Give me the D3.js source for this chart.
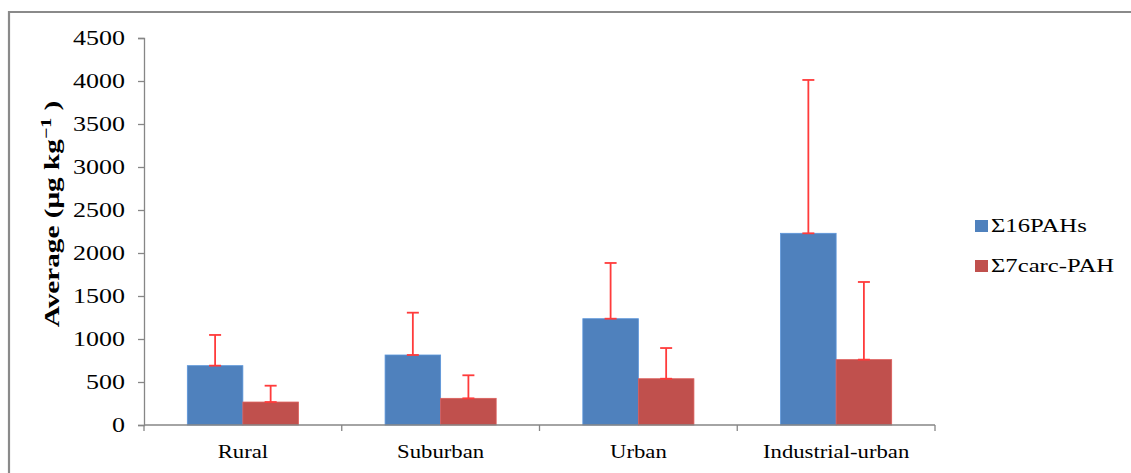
<!DOCTYPE html>
<html>
<head>
<meta charset="utf-8">
<script src="https://cdn.jsdelivr.net/npm/d3@7/dist/d3.min.js"></script>
<style>
  html, body { margin: 0; padding: 0; background: #fff; }
  svg { display: block; }
  text { font-family: "Liberation Serif", "Times New Roman", serif; fill: #000; }
</style>
</head>
<body>
<svg id="chart" width="1131" height="473"></svg>
<script>
// Average PAH concentrations by land-use type (µg kg⁻¹), with standard deviations
const categories = ["Rural", "Suburban", "Urban", "Industrial-urban"];
const seriesNames = ["\u03A316PAHs", "\u03A37carc-PAH"];
const pah16Mean = [690, 814, 1236, 2229];
const pah16Sd = [357, 492, 648, 1783];
const carc7Mean = [267, 310, 538, 760];
const carc7Sd = [190, 268, 357, 903];
const yTicks = [0, 500, 1000, 1500, 2000, 2500, 3000, 3500, 4000, 4500];

const colors = ["#4F81BD", "#C0504D"];
const errColor = "#FF3B3B";
const axisColor = "#868686";
const stretch = 1.3; // horizontal text stretch

const svg = d3.select("#chart");

// outer frame
svg.append("path")
  .attr("d", "M9,473 V12 H1131")
  .attr("fill", "none")
  .attr("stroke", "#8a8a8a")
  .attr("stroke-width", 2.2);

const plot = { left: 144, right: 935, top: 38, bottom: 425 };

const x0 = d3.scaleBand().domain(categories).range([plot.left, plot.right]).paddingInner(0).paddingOuter(0);
const x1 = d3.scaleBand().domain(seriesNames).range([0, x0.bandwidth()]).paddingInner(0).paddingOuter(0.78);
const y = d3.scaleLinear().domain([0, 4500]).range([plot.bottom, plot.top]);

const rows = categories.map((c, i) => ({
  cat: c,
  vals: [
    { s: seriesNames[0], v: pah16Mean[i], e: pah16Sd[i], c: colors[0] },
    { s: seriesNames[1], v: carc7Mean[i], e: carc7Sd[i], c: colors[1] }
  ]
}));

// bars
const groups = svg.append("g").selectAll("g").data(rows).join("g")
  .attr("transform", d => `translate(${x0(d.cat)},0)`);

groups.selectAll("rect").data(d => d.vals).join("rect")
  .attr("x", d => x1(d.s))
  .attr("width", x1.bandwidth())
  .attr("y", d => y(d.v))
  .attr("height", d => y(0) - y(d.v))
  .attr("fill", d => d.c)
  .attr("stroke", d => d3.color(d.c).brighter(0.4))
  .attr("stroke-width", 0.8);

// positive error bars with caps
const capW = 12;
const eb = groups.selectAll("g.err").data(d => d.vals).join("g").attr("class", "err")
  .attr("stroke", errColor).attr("stroke-width", 1.8).attr("fill", "none");
eb.append("line")
  .attr("x1", d => x1(d.s) + x1.bandwidth() / 2)
  .attr("x2", d => x1(d.s) + x1.bandwidth() / 2)
  .attr("y1", d => y(d.v))
  .attr("y2", d => y(d.v + d.e));
eb.append("line")
  .attr("x1", d => x1(d.s) + x1.bandwidth() / 2 - capW / 2)
  .attr("x2", d => x1(d.s) + x1.bandwidth() / 2 + capW / 2)
  .attr("y1", d => y(d.v + d.e))
  .attr("y2", d => y(d.v + d.e));
eb.append("line")
  .attr("x1", d => x1(d.s) + x1.bandwidth() / 2 - capW / 2)
  .attr("x2", d => x1(d.s) + x1.bandwidth() / 2 + capW / 2)
  .attr("y1", d => y(d.v))
  .attr("y2", d => y(d.v));

// y axis
const yAxis = svg.append("g")
  .attr("transform", `translate(${plot.left},0)`)
  .call(d3.axisLeft(y).tickValues(yTicks).tickSize(6).tickPadding(0).tickFormat(d3.format("d")));
yAxis.select(".domain").attr("stroke", axisColor).attr("stroke-width", 1.3);
yAxis.selectAll(".tick line").attr("stroke", axisColor).attr("stroke-width", 1.3);
yAxis.selectAll(".tick text")
  .attr("x", -19 / stretch)
  .attr("dy", "0.34em")
  .attr("transform", `scale(${stretch},1)`)
  .style("font-size", "20px")
  .style("font-family", "'Liberation Serif', 'Times New Roman', serif")
  .attr("fill", "#000");

// x axis: ticks at category boundaries
const xAxisG = svg.append("g").attr("transform", `translate(0,${plot.bottom})`);
xAxisG.append("line").attr("x1", plot.left).attr("x2", plot.right)
  .attr("stroke", axisColor).attr("stroke-width", 1.3);
const bounds = categories.map(c => x0(c)).concat([x0.range()[1]]);
xAxisG.selectAll("line.tk").data(bounds).join("line").attr("class", "tk")
  .attr("x1", d => d).attr("x2", d => d).attr("y1", 0).attr("y2", 6)
  .attr("stroke", axisColor).attr("stroke-width", 1.3);
xAxisG.selectAll("text").data(categories).join("text")
  .attr("transform", d => `translate(${x0(d) + x0.bandwidth() / 2},33) scale(${stretch * 0.92},1)`)
  .attr("text-anchor", "middle")
  .style("font-size", "19px")
  .text(d => d);

// y axis title
const yt = svg.append("text")
  .attr("transform", "translate(59,214) rotate(-90) scale(1.33,1)")
  .attr("text-anchor", "middle")
  .style("font-size", "22px")
  .style("font-weight", "bold");
yt.append("tspan").text("Average (\u03BCg kg");
yt.append("tspan").attr("dy", -8).style("font-size", "15px").text("\u22121");
yt.append("tspan").attr("dy", 8).text(" )");

// legend
const legend = svg.append("g").attr("transform", "translate(975,220)");
const li = legend.selectAll("g").data(seriesNames).join("g")
  .attr("transform", (d, i) => `translate(0,${i * 40})`);
li.append("rect").attr("width", 13).attr("height", 12)
  .attr("fill", (d, i) => colors[i]);
li.append("text")
  .attr("transform", `translate(16,12) scale(${stretch},1)`)
  .style("font-size", "19px")
  .text(d => d);
</script>
</body>
</html>
